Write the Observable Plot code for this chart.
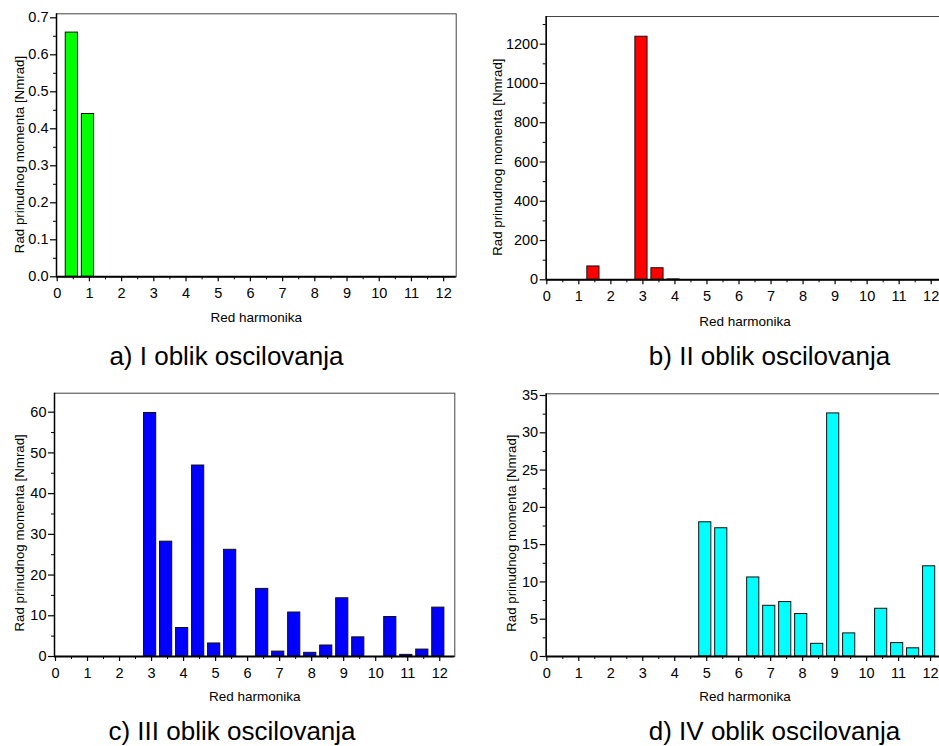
<!DOCTYPE html>
<html><head><meta charset="utf-8">
<script src="https://cdn.jsdelivr.net/npm/d3@7"></script>
<script src="https://cdn.jsdelivr.net/npm/@observablehq/plot@0.6"></script>
<style>
html,body{margin:0;padding:0;background:#fff;}
#wrap{position:relative;width:939px;height:746px;overflow:hidden;background:#fff;}
</style></head><body><div id="wrap"></div>
<script>
// ---- data ----
const harmonics = [0.5,1,1.5,2,2.5,3,3.5,4,4.5,5,5.5,6,6.5,7,7.5,8,8.5,9,9.5,10,10.5,11,11.5,12];
const valuesA = [0.66,0.44,0,0,0,0,0,0,0,0,0,0,0,0,0,0,0,0,0,0,0,0,0,0];
const valuesB = [0,0,68,0,0,1238,59,2,0,0,0,0,0,0,0,0,0,0,0,0,0,0,0,0];
const valuesC = [0,0,0,0,0,59.8,28.2,7.0,46.9,3.2,26.2,0,16.6,1.2,10.8,0.9,2.7,14.3,4.7,0,9.7,0.4,1.7,12.0];
const valuesD = [0,0,0,0,0,0,0,0,0,18.0,17.2,0,10.6,6.8,7.3,5.7,1.7,32.6,3.1,0,6.4,1.8,1.1,12.1];
const xTicks = [0,1,2,3,4,5,6,7,8,9,10,11,12];
const xMinor = [0.5,1.5,2.5,3.5,4.5,5.5,6.5,7.5,8.5,9.5,10.5,11.5,12.5];
const yTicksA = [0,0.1,0.2,0.3,0.4,0.5,0.6,0.7];
const yMinorA = [0.05,0.15,0.25,0.35,0.45,0.55,0.65];
const yTicksB = [0,200,400,600,800,1000,1200];
const yMinorB = [100,300,500,700,900,1100,1300];
const yTicksC = [0,10,20,30,40,50,60];
const yMinorC = [5,15,25,35,45,55];
const yTicksD = [0,5,10,15,20,25,30,35];
const yMinorD = [2.5,7.5,12.5,17.5,22.5,27.5,32.5];
const xTitle = "Red harmonika";
const yTitle = "Rad prinudnog momenta [Nmrad]";
const captions = ["a) I oblik oscilovanja","b) II oblik oscilovanja","c) III oblik oscilovanja","d) IV oblik oscilovanja"];
const colors = ["#00ff00","#ff0000","#0000ff","#00ffff"];

const font = "Arial, 'Liberation Sans', sans-serif";

const panels = [
  {vals: valuesA, color: colors[0], cap: captions[0], left: 0, top: 0, w: 470, h: 380,
   ml: 56, mr: 14.3, mt: 13.3, mb: 103.7, xdom: [-0.022, 12.39], ydom: [0, 0.7108],
   yMajor: yTicksA, yMinor: yMinorA, fmt: d3.format(".1f"),
   ytDx: -37, ytDy: 9.2, xtDy: 40.7, capDx: -29.9, capDy: 79.4},
  {vals: valuesB, color: colors[1], cap: captions[1], left: 470, top: 0, w: 480, h: 380,
   ml: 75.7, mr: 6.5, mt: 16, mb: 100.7, xdom: [-0.019, 12.4], ydom: [0, 1341],
   yMajor: yTicksB, yMinor: yMinorB, fmt: d3.format("d"),
   ytDx: -48, ytDy: 9, xtDy: 42, capDx: 24.4, capDy: 76.4},
  {vals: valuesC, color: colors[2], cap: captions[2], left: 0, top: 380, w: 470, h: 366,
   ml: 54, mr: 15.7, mt: 12.7, mb: 90, xdom: [-0.031, 12.47], ydom: [0, 64.66],
   yMajor: yTicksC, yMinor: yMinorC, fmt: d3.format("d"),
   ytDx: -34.3, ytDy: 8, xtDy: 40.5, capDx: -22.65, capDy: 74.7},
  {vals: valuesD, color: colors[3], cap: captions[3], left: 470, top: 380, w: 480, h: 366,
   ml: 75.7, mr: 6.5, mt: 13.3, mb: 90, xdom: [-0.019, 12.42], ydom: [0, 35.23],
   yMajor: yTicksD, yMinor: yMinorD, fmt: d3.format("d"),
   ytDx: -34, ytDy: 8, xtDy: 40, capDx: 29.4, capDy: 74.7}
];

const wrap = document.getElementById("wrap");

for (const p of panels) {
  const data = harmonics.map((h, i) => ({h, v: p.vals[i]}));
  const svg = Plot.plot({
    width: p.w, height: p.h,
    marginLeft: p.ml, marginRight: p.mr, marginTop: p.mt, marginBottom: p.mb,
    style: {fontFamily: font, fontSize: "14px", color: "#000", background: "transparent", maxWidth: "none", overflow: "visible"},
    x: {domain: p.xdom},
    y: {domain: p.ydom},
    marks: [
      Plot.frame({stroke: "#444", strokeWidth: 1}),
      Plot.rectY(data, {x1: d => d.h - 0.235, x2: d => d.h + 0.145, y1: 0, y2: "v", fill: p.color, stroke: "#111", strokeWidth: 1}),
      Plot.ruleY([p.ydom[0]], {stroke: "#000", strokeWidth: 2}),
      Plot.ruleX([p.xdom[0]], {stroke: "#000", strokeWidth: 1.5}),
      Plot.axisX(xTicks, {tickSize: 5, tickPadding: 6, label: null, stroke: "#000", strokeWidth: 1.2, fontSize: 14.5, fill: "#000"}),
      Plot.axisX(xMinor.filter(v => v <= p.xdom[1]), {tickSize: 3, tickFormat: () => "", label: null, stroke: "#000"}),
      Plot.axisY(p.yMajor, {tickSize: 6, tickPadding: 2, tickFormat: p.fmt, label: null, stroke: "#000", strokeWidth: 1.2, fontSize: 14.5, fill: "#000"}),
      Plot.axisY(p.yMinor.filter(v => v <= p.ydom[1]), {tickSize: 3, tickFormat: () => "", label: null, stroke: "#000"}),
      Plot.text([yTitle], {text: d => d, frameAnchor: "left", rotate: -90, dx: p.ytDx, dy: p.ytDy, fontSize: 13.3, textAnchor: "middle", lineAnchor: "middle", fill: "#000"}),
      Plot.text([xTitle], {text: d => d, frameAnchor: "bottom", dy: p.xtDy, fontSize: 13.5, textAnchor: "middle", lineAnchor: "middle", fill: "#000"}),
      Plot.text([p.cap], {text: d => d, frameAnchor: "bottom", dx: p.capDx, dy: p.capDy, fontSize: 26, textAnchor: "middle", lineAnchor: "middle", fill: "#000"})
    ]
  });
  svg.style.position = "absolute";
  svg.style.left = p.left + "px";
  svg.style.top = p.top + "px";
  wrap.appendChild(svg);
}
</script></body></html>
